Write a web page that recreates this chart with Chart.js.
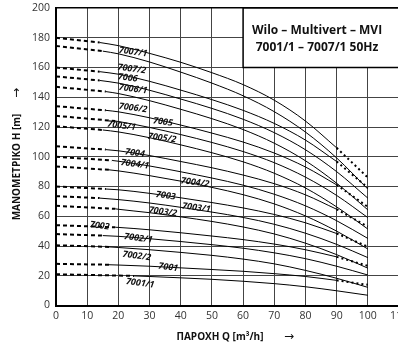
<!DOCTYPE html>
<html>
<head>
<meta charset="utf-8">
<script src="https://cdn.jsdelivr.net/npm/chart.js@4.4.0/dist/chart.umd.min.js"></script>
<style>
  html, body { margin: 0; padding: 0; background: #fff; overflow: hidden; }
  #wrap { width: 398px; height: 349px; overflow: hidden; }
</style>
</head>
<body>
<div id="wrap"><canvas id="chart" width="420" height="349"></canvas></div>
<script>
// tick labels
const flowTicks = [0, 10, 20, 30, 40, 50, 60, 70, 80, 90, 100, 110];
const headTicks = [0, 20, 40, 60, 80, 100, 120, 140, 160, 180, 200];

// pump curves, top to bottom
const pumpNames = ["7007/1", "7007/2", "7006", "7006/1", "7006/2", "7005", "7005/1", "7005/2",
  "7004", "7004/1", "7004/2", "7003", "7003/1", "7003/2", "7002", "7002/1", "7002/2", "7001", "7001/1"];

// head at Q = 0 and where the dashed start ends
const shutoffHead = [180, 174.5, 160, 154, 147, 134, 127.5, 120.5, 107, 100, 93.5, 80, 73.5, 67, 54, 48, 40.5, 28, 21];
const dashEndFlow = [14, 15, 14, 14, 16, 16, 19, 15, 16, 18, 17, 16, 14, 19, 19, 15, 17, 17, 25];
const dashEndHead = [176.8, 171, 157.2, 151.3, 143.8, 131.2, 124, 118, 104.8, 97.5, 91.2, 78.3, 72.2, 65, 52.6, 47, 39.4, 27.4, 19.9];

// curve heads at these flows
const flowPoints = [20, 30, 40, 50, 60, 70, 80, 90, 100];
const head7007_1 = [174.7, 169.5, 163.5, 156.5, 148.5, 138, 124, 106, 86];
const head7007_2 = [169.2, 163.7, 156.9, 149.5, 141, 130.3, 116.6, 99.2, 78.3];
const head7006 = [155.5, 150.7, 144.8, 138.4, 131.2, 122.4, 111.2, 96.8, 79.2];
const head7006_1 = [149.5, 144.7, 138.8, 132.5, 125.2, 116.2, 104.7, 90, 72.2];
const head7006_2 = [142.5, 137.7, 131.9, 125.6, 118.3, 109.1, 97.3, 82.2, 64.3];
const head7005 = [130.2, 126.2, 121.3, 115.9, 109.9, 102.5, 93.1, 81.1, 66.3];
const head7005_1 = [123.7, 119.7, 114.9, 109.6, 103.5, 96, 86.3, 74, 59.1];
const head7005_2 = [116.7, 112.8, 108, 102.7, 96.6, 88.9, 79, 66.3, 51.4];
const head7004 = [104, 100.8, 96.8, 92.6, 87.7, 81.9, 74.4, 64.7, 53];
const head7004_1 = [97, 93.8, 89.9, 85.7, 80.9, 74.8, 67, 57, 45.1];
const head7004_2 = [90.5, 87.3, 83.6, 79.4, 74.5, 68.3, 60.2, 50, 38];
const head7003 = [77.8, 75.4, 72.4, 69.2, 65.6, 61.2, 55.6, 48.4, 39.6];
const head7003_1 = [71.2, 68.9, 66, 62.8, 59.2, 54.6, 48.6, 41.1, 32.2];
const head7003_2 = [64.7, 62.4, 59.6, 56.5, 52.8, 48.1, 41.9, 34.2, 25.1];
const head7002 = [52.5, 50.9, 48.9, 46.7, 44.3, 41.3, 37.5, 32.7, 26.7];
const head7002_1 = [46.5, 44.9, 43, 40.9, 38.5, 35.4, 31.5, 26.4, 20.5];
const head7002_2 = [39, 37.5, 35.7, 33.7, 31.2, 28, 23.6, 18.3, 12.2];
const head7001 = [27.2, 26.4, 25.3, 24.2, 23, 21.4, 19.5, 16.9, 13.9];
const head7001_1 = [20.2, 19.5, 18.6, 17.6, 16.3, 14.7, 12.6, 9.9, 6.9];

const curveHeads = [head7007_1, head7007_2, head7006, head7006_1, head7006_2, head7005, head7005_1,
  head7005_2, head7004, head7004_1, head7004_2, head7003, head7003_1, head7003_2, head7002,
  head7002_1, head7002_2, head7001, head7001_1];

// curves with a dotted end past Q = 90
const dottedEnd = ["7007/1", "7006", "7005", "7004", "7003", "7002", "7001"];
const dottedFrom = 90;

// where the curve names sit
const labelFlow = [24.7, 24.3, 23, 24.7, 24.7, 34.3, 21, 34, 25.3, 25.3, 44.6, 35.2, 45, 34.3, 14, 26.4, 25.9, 36, 27];
const labelHead = [170.4, 159, 153, 145.5, 132.8, 123.4, 120.8, 112.6, 102.5, 95, 82.7, 73.8, 65.7, 63, 53.6, 45.2, 33.3, 25.7, 15];

const datasets = [];
pumpNames.forEach((name, i) => {
  const pts = flowPoints
    .map((q, j) => ({ x: q, y: curveHeads[i][j] }))
    .filter((p) => p.x > dashEndFlow[i]);
  const start = { x: dashEndFlow[i], y: dashEndHead[i] };
  const hasDots = dottedEnd.includes(name);

  datasets.push({
    label: name + " start",
    data: [{ x: 0, y: shutoffHead[i] }, start],
    borderColor: "#000",
    borderWidth: 2,
    borderDash: [4, 3],
  });
  datasets.push({
    label: name,
    data: [start, ...pts.filter((p) => !hasDots || p.x <= dottedFrom)],
    borderColor: "#000",
    borderWidth: 1,
    cubicInterpolationMode: "monotone",
  });
  if (hasDots) {
    datasets.push({
      label: name + " end",
      data: pts.filter((p) => p.x >= dottedFrom),
      borderColor: "#000",
      borderWidth: 2,
      borderDash: [2, 3],
    });
  }
});

const FONT = '"Open Sans", "DejaVu Sans", sans-serif';

const decorPlugin = {
  id: "decor",
  beforeDatasetsDraw(chart) {
    // title box over the upper right grid
    const { ctx, scales } = chart;
    const x0 = scales.x.getPixelForValue(60);
    const x1 = scales.x.getPixelForValue(110);
    const y0 = scales.y.getPixelForValue(200);
    const y1 = scales.y.getPixelForValue(160);
    ctx.save();
    ctx.fillStyle = "#fff";
    ctx.fillRect(x0, y0, x1 - x0, y1 - y0);
    ctx.strokeStyle = "#000";
    ctx.lineWidth = 1.5;
    ctx.strokeRect(x0, y0, x1 - x0, y1 - y0);
    ctx.fillStyle = "#111";
    ctx.font = "bold 12px " + FONT;
    ctx.textAlign = "center";
    ctx.textBaseline = "middle";
    ctx.fillText("Wilo – Multivert – MVI", 317, 31);
    ctx.fillText("7001/1 – 7007/1 50Hz", 317, 48);
    ctx.restore();
  },
  afterDatasetsDraw(chart) {
    const { ctx, scales } = chart;
    ctx.save();
    ctx.fillStyle = "#111";
    ctx.font = "italic bold 9px " + FONT;
    ctx.textAlign = "center";
    ctx.textBaseline = "middle";
    pumpNames.forEach((name, i) => {
      ctx.save();
      ctx.translate(scales.x.getPixelForValue(labelFlow[i]), scales.y.getPixelForValue(labelHead[i]));
      ctx.rotate(0.13);
      ctx.fillText(name, 0, 0);
      ctx.restore();
    });

    // axis titles with arrows
    ctx.font = "bold 10px " + FONT;
    ctx.fillText("ΠΑΡΟΧΗ Q [m³/h]", 220, 337);
    ctx.font = "12px " + FONT;
    ctx.fillText("→", 289, 337);
    ctx.translate(17, 167);
    ctx.rotate(-Math.PI / 2);
    ctx.font = "bold 10px " + FONT;
    ctx.fillText("ΜΑΝΟΜΕΤΡΙΚΟ H [m]", 0, 0);
    ctx.font = "12px " + FONT;
    ctx.fillText("→", 74, 0);
    ctx.restore();
  },
};

new Chart(document.getElementById("chart"), {
  type: "line",
  data: { datasets },
  options: {
    responsive: false,
    animation: false,
    devicePixelRatio: 1,
    layout: { padding: { left: 0, top: 8, right: 21, bottom: 0 } },
    elements: { point: { radius: 0 }, line: { tension: 0 } },
    plugins: { legend: { display: false }, tooltip: { enabled: false } },
    scales: {
      x: {
        type: "linear",
        min: 0,
        max: 110,
        afterBuildTicks: (axis) => { axis.ticks = flowTicks.map((v) => ({ value: v })); },
        afterFit: (scale) => { scale.height = 43.5; },
        ticks: { color: "#333", font: { family: FONT, size: 10.5 }, padding: 4, maxRotation: 0 },
        grid: { color: "#444", lineWidth: 1, drawTicks: false },
        border: { color: "#000", width: 2 },
      },
      y: {
        type: "linear",
        min: 0,
        max: 200,
        afterBuildTicks: (axis) => { axis.ticks = headTicks.map((v) => ({ value: v })); },
        afterFit: (scale) => { scale.width = 56; },
        ticks: { color: "#333", font: { family: FONT, size: 10.5 }, padding: 1 },
        grid: {
          color: (c) => (c.tick && c.tick.value === 200 ? "#000" : "#444"),
          lineWidth: (c) => (c.tick && c.tick.value === 200 ? 1.5 : 1),
          drawTicks: true,
          tickLength: 5,
          tickColor: "rgba(0,0,0,0)",
        },
        border: { color: "#000", width: 2 },
      },
    },
  },
  plugins: [decorPlugin],
});
</script>
</body>
</html>
